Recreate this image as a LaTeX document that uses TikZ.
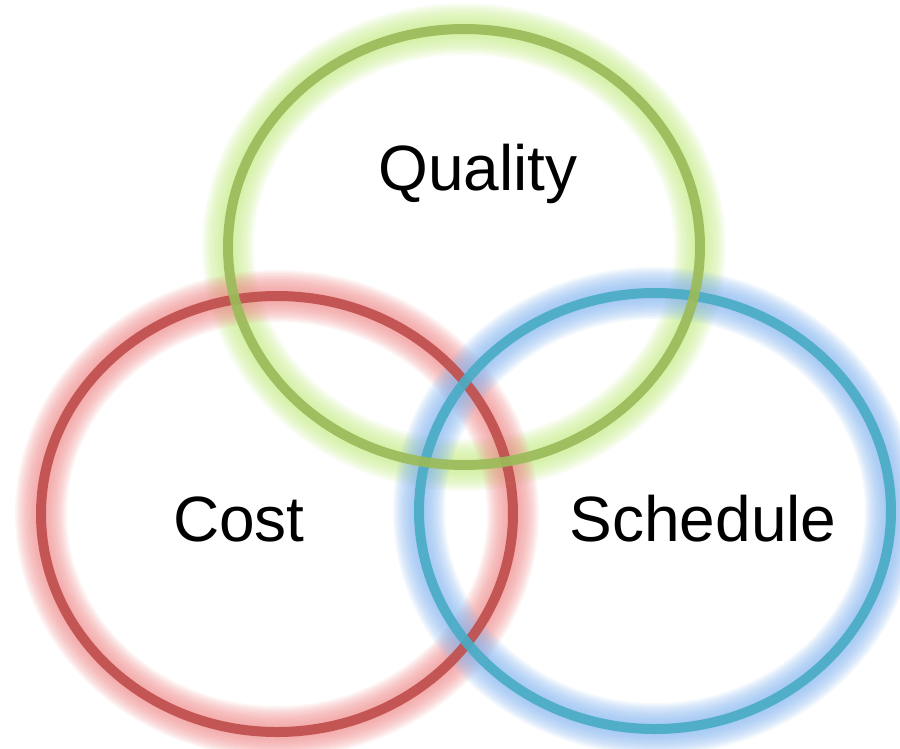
\documentclass[tikz,border=0pt]{standalone}
\usepackage{fontspec}
\setmainfont{Liberation Sans}
\usepackage{tikz}
\usetikzlibrary{shapes.geometric}

\definecolor{qline}{HTML}{9BBB59}
\definecolor{qglow}{HTML}{C8EC8C}
\definecolor{cline}{HTML}{C0504D}
\definecolor{cglow}{HTML}{F09090}
\definecolor{sline}{HTML}{4BACC6}
\definecolor{sglow}{HTML}{8AB8F0}

\begin{document}
\begin{tikzpicture}[x=1pt, y=-1pt, ring/.style={ellipse, draw=#1, line width=10pt, inner sep=0pt, outer sep=0pt, minimum width=472pt, minimum height=436pt}, caption/.style={font=\fontsize{64}{72}\selectfont, text=black, anchor=base, inner sep=0pt}]

    \useasboundingbox (0,0) rectangle (900,748);

    %Glow
    \foreach \pos/\col in {{(464,247)}/qglow, {(277,514)}/cglow, {(655,511)}/sglow}
        \foreach \w in {52,49,...,13}
            \draw[\col, line width=\w pt, opacity=.09] \pos ellipse [x radius=236, y radius=218];

    %Rings
    \node[ring=cline, opacity=.92](cost_ring) at (277,514){};
    \node[ring=sline, opacity=.92](schedule_ring) at (655,511){};
    \node[ring=qline, opacity=.92](quality_ring) at (464,247){};

    %Labels
    \node[caption](quality) at (478,190){Quality};
    \node[caption](cost) at (239,541){Cost};
    \node[caption](schedule) at (703,541){Schedule};

\end{tikzpicture}
\end{document}
